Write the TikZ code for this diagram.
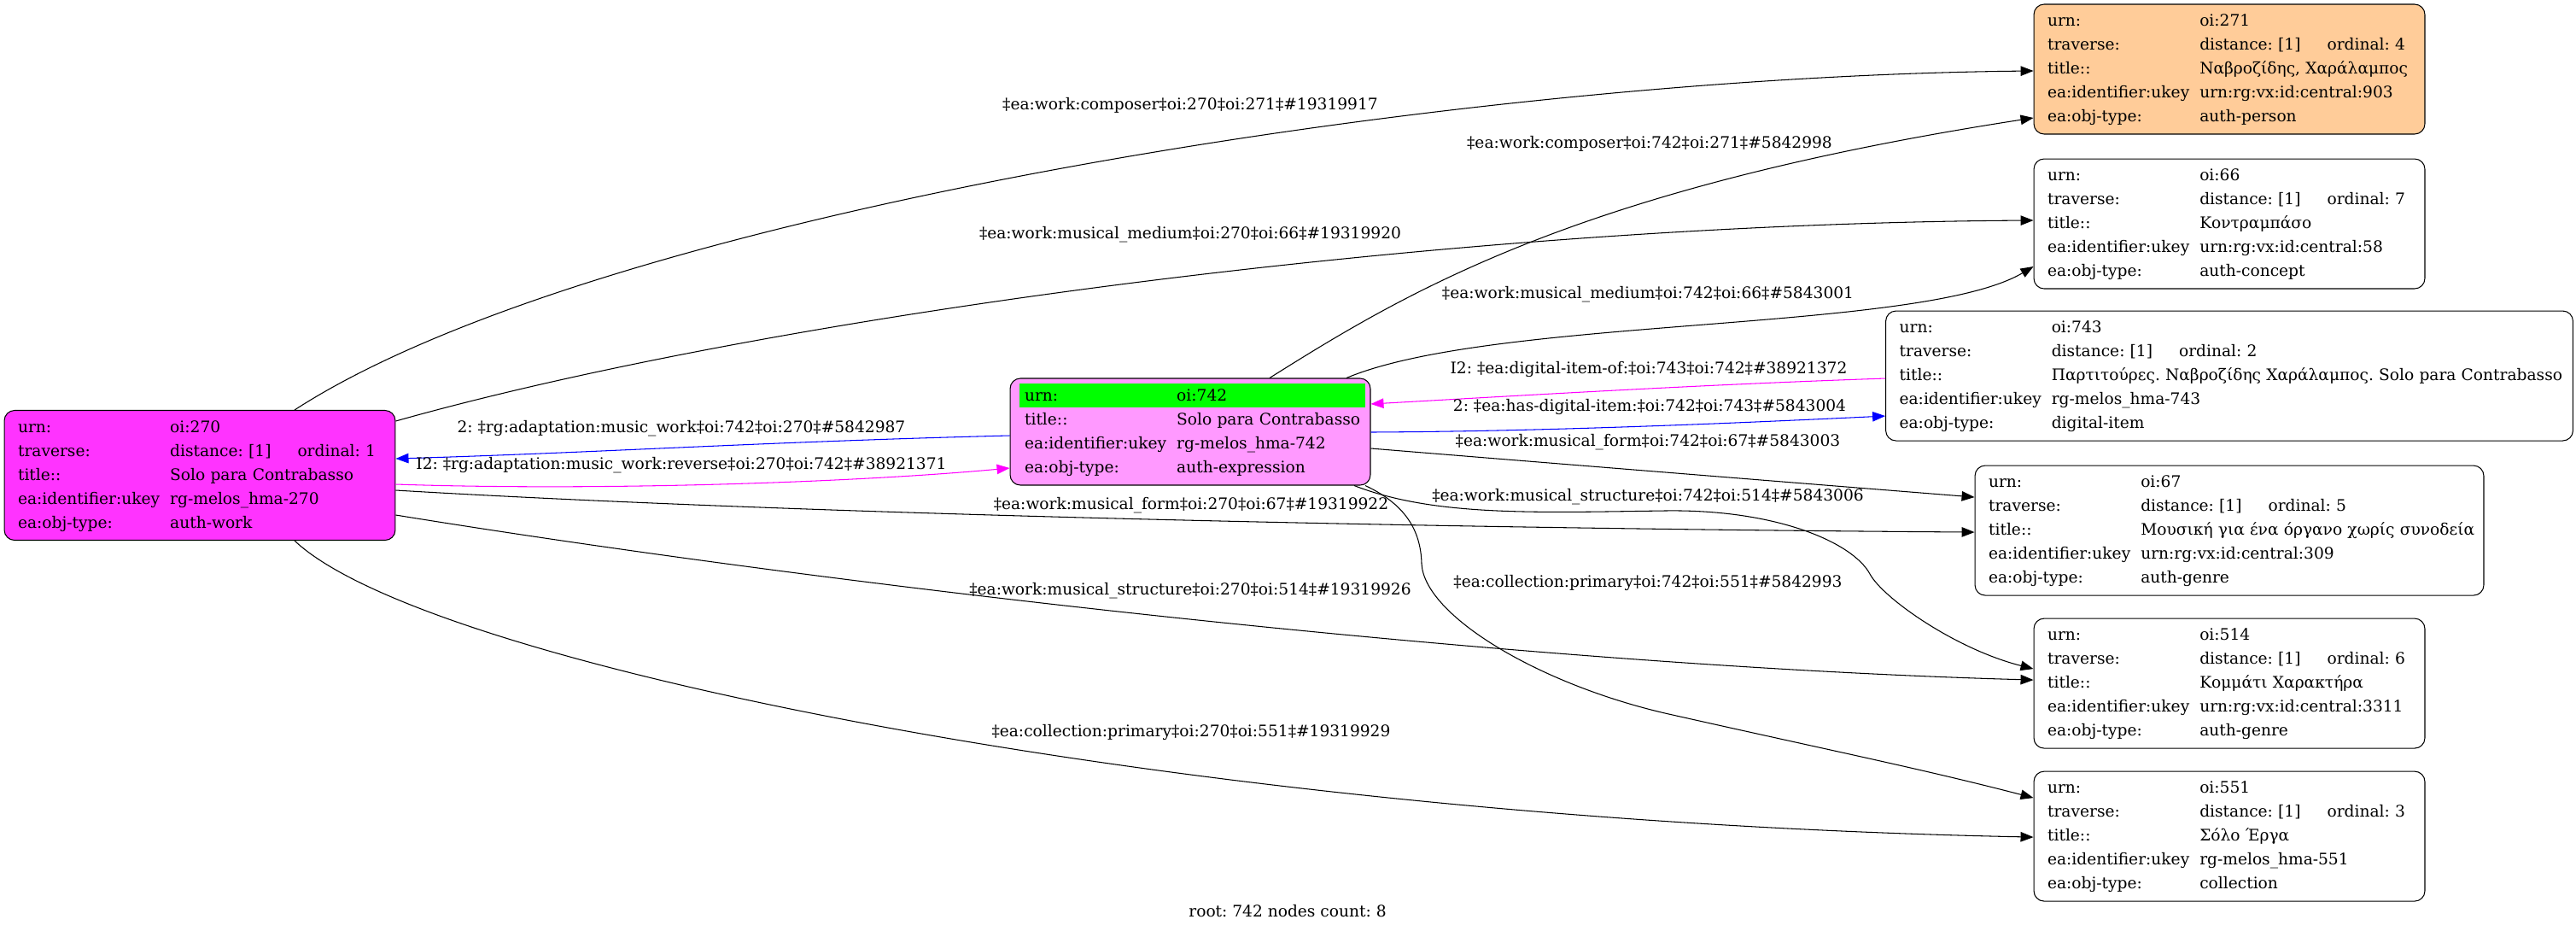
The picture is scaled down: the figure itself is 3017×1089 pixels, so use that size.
\documentclass[tikz,border=0pt]{standalone}
\usepackage{fontspec}
\setmainfont{DejaVu Serif}
\usepackage{colortbl}
\usetikzlibrary{positioning,calc,arrows.meta}

\definecolor{workfill}{HTML}{FF33FF}
\definecolor{exprfill}{HTML}{FF99FF}
\definecolor{personfill}{HTML}{FFCC99}
\definecolor{rootgreen}{HTML}{00FF00}
\definecolor{linkblue}{HTML}{0000FF}
\definecolor{linkpink}{HTML}{FF00FF}

\newcommand{\gvfont}{\fontsize{10.6}{12}\selectfont}
\renewcommand{\arraystretch}{1.33}
\setlength{\tabcolsep}{0.12cm}
\frenchspacing

\tikzset{
  entity/.style={draw, line width=0.6pt, rounded corners=0.24cm, inner xsep=0.32cm,
    inner ysep=0pt, minimum height=3.04cm, align=left, font=\gvfont},
  link/.style={line width=0.6pt, -{Triangle[length=0.3cm,width=0.23cm]}},
  linktext/.style={font=\gvfont, inner sep=0pt},
}

\begin{document}
\begin{tikzpicture}[x=0.02cm, y=-0.02cm]
  \useasboundingbox (0,0) rectangle (3017,1089);
  %The two works first.
  \node[entity, fill=workfill, text width=8.52cm] (n270) at (234,556.5) {%
    \begin{tabular}{@{}ll@{}}
      urn: & oi:270\\
      traverse: & distance: [1]\hspace{0.62cm}ordinal: 1\\
      title:: & Solo para Contrabasso\\
      ea:identifier:ukey & rg-melos\_hma-270\\
      ea:obj-type: & auth-work
    \end{tabular}};
  \node[entity, fill=exprfill, minimum height=2.5cm, inner xsep=0.22cm, text width=8cm] (n742) at (1394,505.5) {%
    \begin{tabular}{ll}
      \cellcolor{rootgreen}urn: & \cellcolor{rootgreen}oi:742\\ %the root row
      title:: & Solo para Contrabasso\\
      ea:identifier:ukey & rg-melos\_hma-742\\
      ea:obj-type: & auth-expression
    \end{tabular}};
  %The right column, stacked from the top.
  \node[entity, fill=personfill, text width=8.52cm] (n271) at (2611,81) {%
    \begin{tabular}{@{}ll@{}}
      urn: & oi:271\\
      traverse: & distance: [1]\hspace{0.62cm}ordinal: 4\\
      title:: & Ναβροζίδης, Χαράλαμπος\\
      ea:identifier:ukey & urn:rg:vx:id:central:903\\
      ea:obj-type: & auth-person
    \end{tabular}};
  \node[entity, text width=8.52cm, below=0.56cm of n271] (n66) {%
    \begin{tabular}{@{}ll@{}}
      urn: & oi:66\\
      traverse: & distance: [1]\hspace{0.62cm}ordinal: 7\\
      title:: & Κοντραμπάσο\\
      ea:identifier:ukey & urn:rg:vx:id:central:58\\
      ea:obj-type: & auth-concept
    \end{tabular}};
  \node[entity, text width=15.46cm, below=0.5cm of n66] (n743) {%
    \begin{tabular}{@{}ll@{}}
      urn: & oi:743\\
      traverse: & distance: [1]\hspace{0.62cm}ordinal: 2\\
      title:: & Παρτιτούρες. Ναβροζίδης Χαράλαμπος. Solo para Contrabasso\\
      ea:identifier:ukey & rg-melos\_hma-743\\
      ea:obj-type: & digital-item
    \end{tabular}};
  \node[entity, text width=11.28cm, below=0.56cm of n743] (n67) {%
    \begin{tabular}{@{}ll@{}}
      urn: & oi:67\\
      traverse: & distance: [1]\hspace{0.62cm}ordinal: 5\\
      title:: & Μουσική για ένα όργανο χωρίς συνοδεία\\
      ea:identifier:ukey & urn:rg:vx:id:central:309\\
      ea:obj-type: & auth-genre
    \end{tabular}};
  \node[entity, text width=8.52cm, below=0.52cm of n67] (n514) {%
    \begin{tabular}{@{}ll@{}}
      urn: & oi:514\\
      traverse: & distance: [1]\hspace{0.62cm}ordinal: 6\\
      title:: & Κομμάτι Χαρακτήρα\\
      ea:identifier:ukey & urn:rg:vx:id:central:3311\\
      ea:obj-type: & auth-genre
    \end{tabular}};
  \node[entity, text width=8.52cm, below=0.52cm of n514] (n551) {%
    \begin{tabular}{@{}ll@{}}
      urn: & oi:551\\
      traverse: & distance: [1]\hspace{0.62cm}ordinal: 3\\
      title:: & Σόλο Έργα\\
      ea:identifier:ukey & rg-melos\_hma-551\\
      ea:obj-type: & collection
    \end{tabular}};

  %edges out of oi:270
  \draw[link] ($(n270.north)+(111,0)$) .. controls (700,250) and (1700,90) .. ($(n271.west)+(0,2)$);
  \draw[link] ($(n270.east)+(0,-63.5)$) .. controls (900,370) and (1700,262) .. ($(n66.west)+(0,-4)$);
  \draw[link] ($(n270.east)+(0,17.5)$) .. controls (900,600) and (1600,618) .. ($(n67.west)+(0,2)$);
  \draw[link] ($(n270.east)+(0,46.5)$) .. controls (1000,690) and (1800,780) .. ($(n514.west)+(0,-4)$);
  \draw[link] ($(n270.south)+(111,0)$) .. controls (500,780) and (1400,960) .. ($(n551.west)+(0,1)$);
  \draw[link, draw=linkpink] ($(n270.east)+(0,10.5)$) .. controls (700,575) and (1000,565) .. ($(n742.west)+(0,42.5)$);
  %edges out of oi:742
  \draw[link, draw=linkblue] ($(n742.west)+(0,4.5)$) .. controls (900,517) and (700,530) .. ($(n270.east)+(0,-19.5)$);
  \draw[link] ($(n742.north)+(93,0)$) .. controls (1650,340) and (1850,220) .. ($(n271.west)+(0,57)$);
  \draw[link] ($(n742.north)+(183,0)$) .. controls (1750,370) and (2250,390) .. ($(n66.west)+(0,50)$);
  \draw[link, draw=linkblue] ($(n742.east)+(0,0.5)$) .. controls (1800,505) and (2000,497) .. ($(n743.west)+(0,47)$);
  \draw[link] ($(n742.east)+(0,19.5)$) .. controls (1850,545) and (2100,565) .. ($(n67.west)+(0,-39)$);
  \draw[link] ($(n742.south)+(192,0)$) .. controls (1680,605) and (1800,600) .. (1950,598)
    .. controls (2080,596) and (2170,635) .. (2190,672)
    .. controls (2205,700) and (2290,760) .. ($(n514.west)+(0,-17)$);
  \draw[link] ($(n742.south)+(205,0)$) .. controls (1645,590) and (1664,620) .. (1665,660)
    .. controls (1668,720) and (1800,800) .. (1950,835)
    .. controls (2150,880) and (2250,900) .. ($(n551.west)+(0,-45)$);
  %edge out of oi:743
  \draw[link, draw=linkpink] ($(n743.west)+(0,3)$) .. controls (2000,450) and (1800,462) .. ($(n742.east)+(0,-32.5)$);

  %edge labels
  \node[linktext] (lcomp270) at (1394,123) {‡ea:work:composer‡oi:270‡oi:271‡\#19319917};
  \node[linktext] (lcomp742) at (1932,168) {‡ea:work:composer‡oi:742‡oi:271‡\#5842998};
  \node[linktext] (lmed270) at (1394,275) {‡ea:work:musical\_medium‡oi:270‡oi:66‡\#19319920};
  \node[linktext] (lmed742) at (1930,345) {‡ea:work:musical\_medium‡oi:742‡oi:66‡\#5843001};
  \node[linktext] (ldig743) at (1931,432) {I2: ‡ea:digital-item-of:‡oi:743‡oi:742‡\#38921372};
  \node[linktext] (ldig742) at (1932,476) {2: ‡ea:has-digital-item:‡oi:742‡oi:743‡\#5843004};
  \node[linktext] (lform742) at (1930,518) {‡ea:work:musical\_form‡oi:742‡oi:67‡\#5843003};
  \node[linktext] (lstru742) at (1930,582) {‡ea:work:musical\_structure‡oi:742‡oi:514‡\#5843006};
  \node[linktext] (lform270) at (1395,592) {‡ea:work:musical\_form‡oi:270‡oi:67‡\#19319922};
  \node[linktext] (lcoll742) at (1930,682) {‡ea:collection:primary‡oi:742‡oi:551‡\#5842993};
  \node[linktext] (lstru270) at (1394,692) {‡ea:work:musical\_structure‡oi:270‡oi:514‡\#19319926};
  \node[linktext] (lcoll270) at (1395,857) {‡ea:collection:primary‡oi:270‡oi:551‡\#19319929};
  \node[linktext] (ladapt742) at (798,502) {2: ‡rg:adaptation:music\_work‡oi:742‡oi:270‡\#5842987};
  \node[linktext] (ladapt270) at (798,545) {I2: ‡rg:adaptation:music\_work:reverse‡oi:270‡oi:742‡\#38921371};
  %graph caption
  \node[linktext] (caption) at (1508,1067) {root: 742 nodes count: 8};
\end{tikzpicture}
\end{document}
